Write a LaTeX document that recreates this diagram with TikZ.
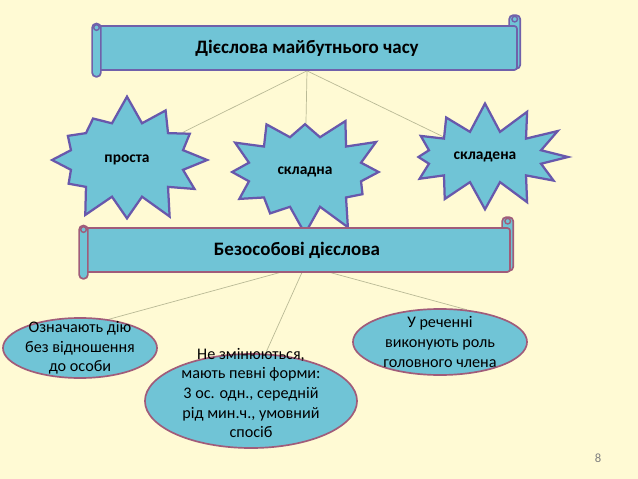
\documentclass[tikz,border=0pt]{standalone}
\usepackage{fontspec}
\setmainfont{Carlito}
\usepackage{tikz}
\usetikzlibrary{positioning, shapes.geometric, shapes.symbols, calc, backgrounds}
\definecolor{paper}{RGB}{255,250,212}
\definecolor{skyfill}{RGB}{112,196,214}
\definecolor{starline}{RGB}{104,88,172}
\definecolor{scrollline}{RGB}{112,96,170}
\definecolor{plumline}{RGB}{160,92,122}
\definecolor{linkgrey}{RGB}{186,186,150}

\newcommand{\scrollends}[2]{%
  \begin{pgfonlayer}{background}
    \draw [draw=#2, fill=skyfill, line width=1.2pt, rounded corners=3pt]
      ($(#1.south east)+(-0.22cm,0.05cm)$) rectangle ($(#1.north east)+(0.06cm,0.25cm)$);
    \draw [draw=#2, fill=skyfill, line width=1pt] ($(#1.north east)+(-0.08cm,0.15cm)$) circle (0.07cm);
  \end{pgfonlayer}
  \draw [draw=#2, fill=skyfill, line width=1.2pt, rounded corners=3pt]
    ($(#1.north west)+(-0.1cm,0.04cm)$) rectangle ($(#1.south west)+(0.12cm,-0.15cm)$);
  \draw [draw=#2, fill=skyfill, line width=1pt] ($(#1.north west)+(0.01cm,-0.06cm)$) circle (0.07cm);
}

\begin{document}
\begin{tikzpicture}[
        x=0.025cm, y=-0.025cm,
        scroll/.style={rectangle, draw=#1, fill=skyfill, line width=1.2pt, rounded corners=2pt,
                       minimum height=1.1cm, font=\fontsize{13.5}{16}\selectfont\bfseries},
        burst/.style={starburst, starburst points=12, starburst point height=0.7cm, draw=starline,
                      fill=skyfill, line width=1.6pt, inner sep=0pt, font=\fontsize{11}{13}\selectfont\bfseries},
        oval/.style={ellipse, draw=plumline, fill=skyfill, line width=1.2pt, inner sep=0pt},
        note/.style={align=center, font=\fontsize{11.5}{14}\selectfont},
        link/.style={draw, linkgrey, line width=0.5pt}
    ]
        \begin{scope}[on background layer]
            \fill [paper] (0,0) rectangle (638,479);
        \end{scope}
        \node [scroll=scrollline, minimum width=10.5cm] (title) at (307,48) {Дієслова майбутнього часу};
        \node [burst, random starburst=7, minimum width=4.3cm, minimum height=3.3cm] (simple) at (127,160) {проста};
        \node [burst, random starburst=19, minimum width=4.3cm, minimum height=3.2cm] (complex) at (305,172) {складна};
        \node [burst, random starburst=33, minimum width=4.3cm, minimum height=2.7cm] (compound) at (485,157) {складена};
        \node [scroll=plumline, minimum width=10.65cm] (sub) at (297,250) {Безособові дієслова};
        \node [oval, minimum width=3.85cm, minimum height=1.5cm] (impers) at (80,348) {};
        \node [note] (imperstext) at (impers) {Означають дію\\без відношення\\до особи};
        \node [oval, minimum width=5.3cm, minimum height=2.35cm] (forms) at (251,401) {};
        \node [note] (formstext) at ($(forms)+(0,0.2cm)$) {Не змінюються,\\мають певні форми:\\3 ос. одн., середній\\рід мин.ч., умовний\\спосіб};
        \node [oval, minimum width=4.35cm, minimum height=1.65cm] (role) at (440,342) {};
        \node [note] (roletext) at (role) {У реченні\\виконують роль\\головного члена};
        \node [font=\fontsize{9}{11}\selectfont, text=gray] (pagenum) at (598,458) {8};
        \scrollends{title}{scrollline}
        \scrollends{sub}{plumline}
        \coordinate (hub) at ($(sub.south)+(0.2cm,0.18cm)$);
        \begin{scope}[on background layer]
            \path [link] (title.south) -- (simple);
            \path [link] (title.south) -- (complex);
            \path [link] (title.south) -- (compound);
            \path [link] (hub) -- (impers.45);
            \path [link] (hub) -- (forms.73);
            \path [link] (hub) -- (role.50);
        \end{scope}
    \end{tikzpicture}
\end{document}
